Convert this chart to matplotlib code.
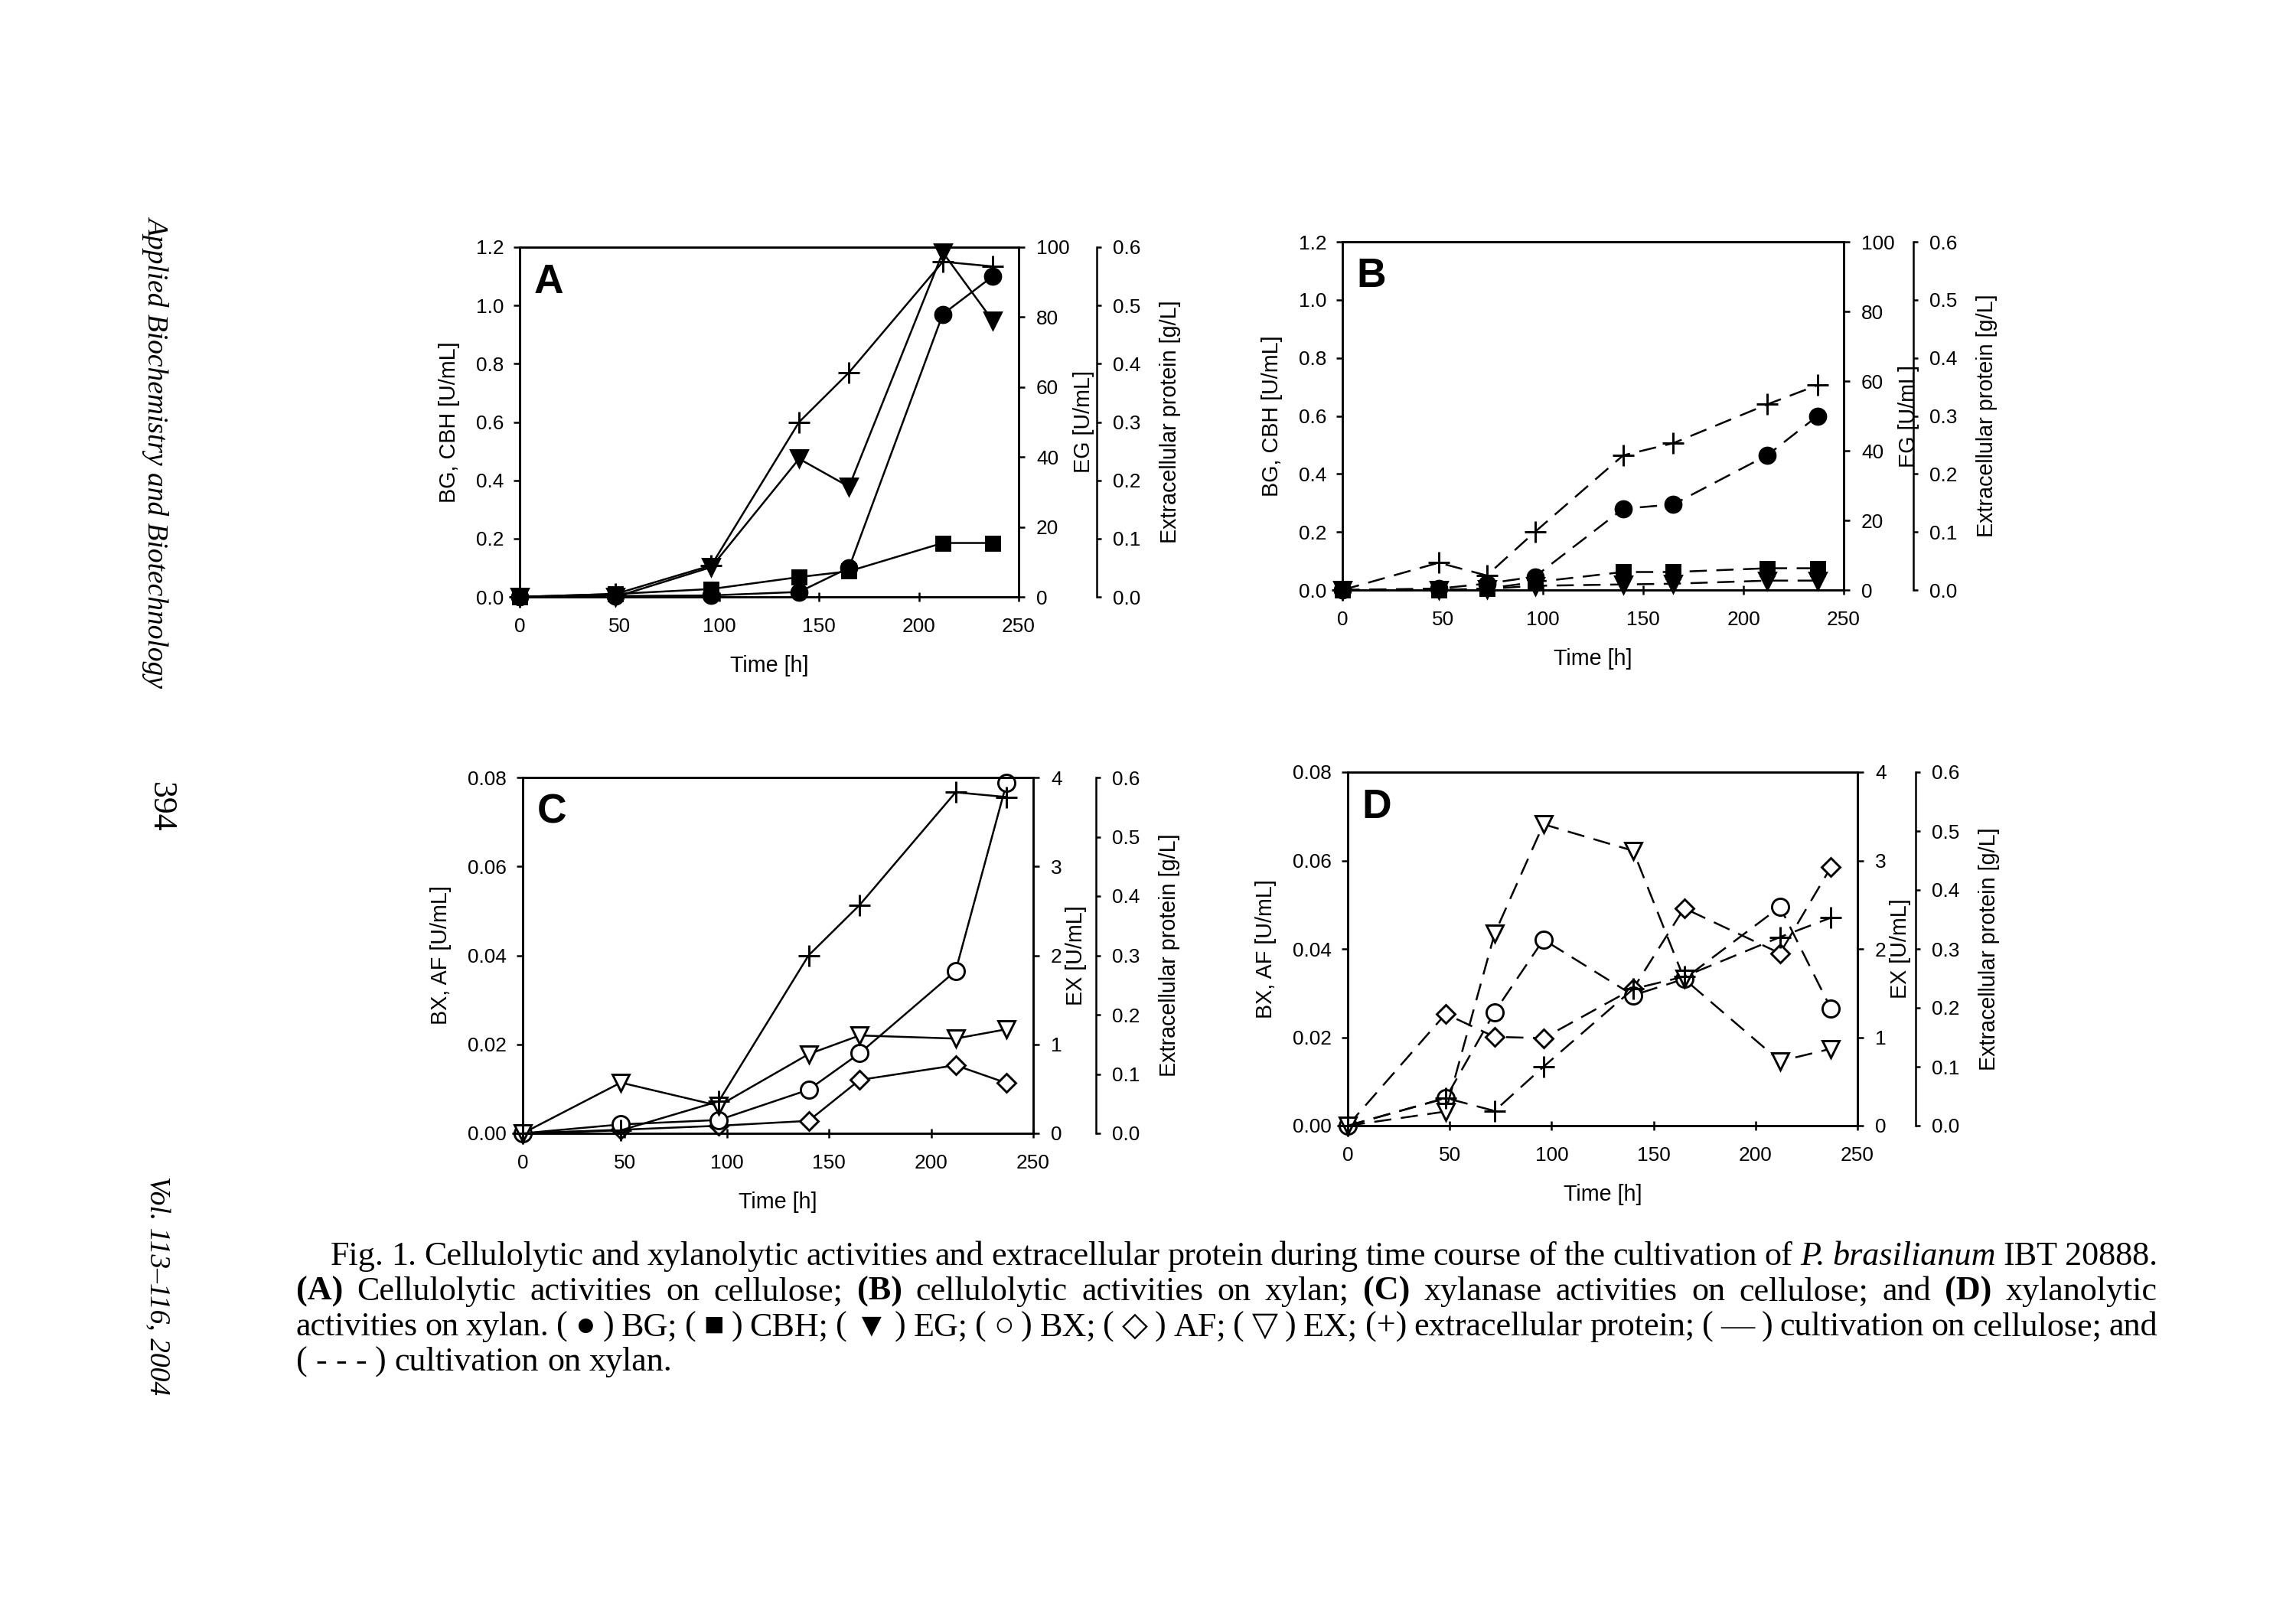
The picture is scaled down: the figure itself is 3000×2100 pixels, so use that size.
import matplotlib
matplotlib.use('Agg')
import matplotlib.pyplot as plt
from matplotlib.ticker import MultipleLocator, FormatStrFormatter

plt.rcParams['font.family'] = ['Liberation Sans', 'DejaVu Sans']

# sampling times (h)
t_cel = [0, 48, 96, 140, 165, 212, 237]
t_xyl = [0, 48, 72, 96, 140, 165, 212, 237]

# panel A: cellulolytic activities on cellulose
bg_cel = [0, 0.003, 0.005, 0.017, 0.10, 0.97, 1.10]
cbh_cel = [0, 0.01, 0.027, 0.068, 0.088, 0.185, 0.185]
eg_cel = [0, 0, 8.5, 39.5, 31.5, 98.5, 79]
prot_cel = [0, 0.005, 0.054, 0.30, 0.385, 0.575, 0.567]

# panel B: cellulolytic activities on xylan
bg_xyl = [0, 0.005, 0.022, 0.046, 0.28, 0.295, 0.465, 0.60]
cbh_xyl = [0, 0, 0.005, 0.027, 0.062, 0.062, 0.075, 0.075]
eg_xyl = [0, 0, 0.3, 1.2, 1.6, 1.8, 2.7, 2.7]
prot_xyl = [0, 0.047, 0.025, 0.10, 0.232, 0.253, 0.32, 0.353]

# panel C: xylanase activities on cellulose
bx_cel = [0, 0.002, 0.003, 0.0098, 0.018, 0.0365, 0.0788]
af_cel = [0, 0.0008, 0.0017, 0.0028, 0.012, 0.0153, 0.0113]
ex_cel = [0, 0.57, 0.31, 0.89, 1.10, 1.065, 1.17]

# panel D: xylanolytic activities on xylan
bx_xyl = [0, 0.0062, 0.0257, 0.0421, 0.0295, 0.0332, 0.0495, 0.0265]
af_xyl = [0, 0.0253, 0.0201, 0.0198, 0.031, 0.0492, 0.039, 0.0585]
ex_xyl = [0, 0.16, 2.17, 3.41, 3.11, 1.66, 0.73, 0.87]

W, H = 3000, 2100
fig = plt.figure(figsize=(10, 7), dpi=300)

TICK = 6.3
LAB = 6.9
LW = 0.6


def rect(l, r, t, b):
    return [l / W, 1 - b / H, (r - l) / W, (b - t) / H]


def make_panel(box, letter, left_lab, left_max, left_step, left_fmt,
               right_lab, right_max, right_step, offset):
    ax = fig.add_axes(rect(*box))
    ax2 = ax.twinx()
    ax3 = ax.twinx()
    ax3.spines['right'].set_position(('outward', offset))
    for s in ['left', 'top', 'bottom']:
        ax3.spines[s].set_visible(False)
    for a in (ax, ax2, ax3):
        for s in a.spines.values():
            s.set_linewidth(LW)
    ax.set_xlim(0, 250)
    ax.xaxis.set_major_locator(MultipleLocator(50))
    ax.set_ylim(0, left_max)
    ax.yaxis.set_major_locator(MultipleLocator(left_step))
    ax.yaxis.set_major_formatter(FormatStrFormatter(left_fmt))
    ax2.set_ylim(0, right_max)
    ax2.yaxis.set_major_locator(MultipleLocator(right_step))
    ax3.set_ylim(0, 0.6)
    ax3.yaxis.set_major_locator(MultipleLocator(0.1))
    ax3.yaxis.set_major_formatter(FormatStrFormatter('%.1f'))
    ax.tick_params(axis='x', direction='inout', length=3, width=LW, labelsize=TICK, pad=5)
    ax.tick_params(axis='y', direction='out', length=2, width=LW, labelsize=TICK, pad=3)
    ax2.tick_params(axis='y', direction='out', length=2, width=LW, labelsize=TICK, pad=3.5)
    ax3.tick_params(axis='y', direction='out', length=1.5, width=LW, labelsize=TICK, pad=3.5)
    ax.set_xlabel('Time [h]', fontsize=LAB, labelpad=6)
    ax.set_ylabel(left_lab, fontsize=LAB, labelpad=5)
    ax2.set_ylabel(right_lab, fontsize=LAB, labelpad=1)
    ax3.set_ylabel('Extracellular protein [g/L]', fontsize=LAB, labelpad=6)
    ax.text(0.028, 0.955, letter, transform=ax.transAxes, fontsize=12.8,
            fontweight='bold', ha='left', va='top')
    return ax, ax2, ax3


def draw(a, t, y, marker, ms, filled, dashed):
    kw = dict(color='black', lw=LW, marker=marker, ms=ms, mec='black',
              mfc='black' if filled else 'white', mew=0.7, clip_on=False)
    if dashed:
        kw['dashes'] = (9, 5)
    a.plot(t, y, **kw)


# A
ax, ax2, ax3 = make_panel((679, 1331, 323, 780), 'A', 'BG, CBH [U/mL]', 1.2, 0.2, '%.1f',
                          'EG [U/mL]', 100, 20, 24.5)
draw(ax3, t_cel, prot_cel, '+', 6.5, True, False)
draw(ax2, t_cel, eg_cel, 'v', 5.5, True, False)
draw(ax, t_cel, cbh_cel, 's', 4.3, True, False)
draw(ax, t_cel, bg_cel, 'o', 5, True, False)

# B
ax, ax2, ax3 = make_panel((1754, 2409, 316, 771), 'B', 'BG, CBH [U/mL]', 1.2, 0.2, '%.1f',
                          'EG [U/mL]', 100, 20, 21.8)
draw(ax3, t_xyl, prot_xyl, '+', 6.5, True, True)
draw(ax2, t_xyl, eg_xyl, 'v', 5.5, True, True)
draw(ax, t_xyl, cbh_xyl, 's', 4.3, True, True)
draw(ax, t_xyl, bg_xyl, 'o', 5, True, True)

# C
ax, ax2, ax3 = make_panel((683, 1350, 1016, 1481), 'C', 'BX, AF [U/mL]', 0.08, 0.02, '%.2f',
                          'EX [U/mL]', 4, 1, 19.7)
draw(ax3, t_cel, prot_cel, '+', 6.5, True, False)
draw(ax2, t_cel, ex_cel, 'v', 5.5, False, False)
draw(ax, t_cel, af_cel, 'D', 4.2, False, False)
draw(ax, t_cel, bx_cel, 'o', 5.3, False, False)

# D
ax, ax2, ax3 = make_panel((1761, 2427, 1009, 1471), 'D', 'BX, AF [U/mL]', 0.08, 0.02, '%.2f',
                          'EX [U/mL]', 4, 1, 18.2)
draw(ax3, t_xyl, prot_xyl, '+', 6.5, True, True)
draw(ax2, t_xyl, ex_xyl, 'v', 5.5, False, True)
draw(ax, t_xyl, af_xyl, 'D', 4.2, False, True)
draw(ax, t_xyl, bx_xyl, 'o', 5.3, False, True)

# side running head
SERIF = ['Liberation Serif', 'DejaVu Serif', 'DejaVu Sans']
fig.text(205 / W, 1 - 590 / H, 'Applied Biochemistry and Biotechnology', rotation=270,
         family=SERIF, fontstyle='italic', fontsize=9, ha='center', va='center')
fig.text(210 / W, 1 - 1055 / H, '394', rotation=270, family=SERIF, fontsize=10.5,
         ha='center', va='center')
fig.text(205 / W, 1 - 1680 / H, 'Vol. 113\u2013116, 2004', rotation=270,
         family=SERIF, fontstyle='italic', fontsize=9, ha='center', va='center')

# caption
CAP = 10.6
caption = [
    [('Fig. 1. Cellulolytic and xylanolytic activities and extracellular protein during time course of the cultivation of', 'normal', 'normal'),
     ('P. brasilianum', 'normal', 'italic'), ('IBT 20888.', 'normal', 'normal')],
    [('(A)', 'bold', 'normal'), ('Cellulolytic activities on cellulose;', 'normal', 'normal'),
     ('(B)', 'bold', 'normal'), ('cellulolytic activities on xylan;', 'normal', 'normal'),
     ('(C)', 'bold', 'normal'), ('xylanase activities on cellulose; and', 'normal', 'normal'),
     ('(D)', 'bold', 'normal'), ('xylanolytic', 'normal', 'normal')],
    [('activities on xylan. ( \u25cf ) BG; ( \u25a0 ) CBH; ( \u25bc ) EG; ( \u25cb ) BX; ( \u25c7 ) AF; '
      '( \u25bd ) EX; (+) extracellular protein; ( \u2014 ) cultivation on cellulose; and', 'normal', 'normal')],
    [('( - - - ) cultivation on xylan.', 'normal', 'normal')],
]
cap_x0 = [432, 387, 387, 387]
cap_y = [1653, 1699, 1745, 1791]
cap_x1 = 2819

renderer = fig.canvas.get_renderer()
for i, line in enumerate(caption):
    objs = []
    for seg, wt, st in line:
        for word in seg.split(' '):
            objs.append(fig.text(0, 1 - cap_y[i] / H, word, family=SERIF, fontsize=CAP,
                                 fontweight=wt, fontstyle=st, va='baseline', ha='left'))
    widths = [o.get_window_extent(renderer).width for o in objs]
    if i < 3:
        gap = (cap_x1 - cap_x0[i] - sum(widths)) / (len(objs) - 1)
    else:
        gap = fig.text(0, 0, ' ', family=SERIF, fontsize=CAP).get_window_extent(renderer).width
    x = cap_x0[i]
    for o, w in zip(objs, widths):
        o.set_x(x / W)
        x += w + gap

fig.savefig('out.png', dpi=300)
